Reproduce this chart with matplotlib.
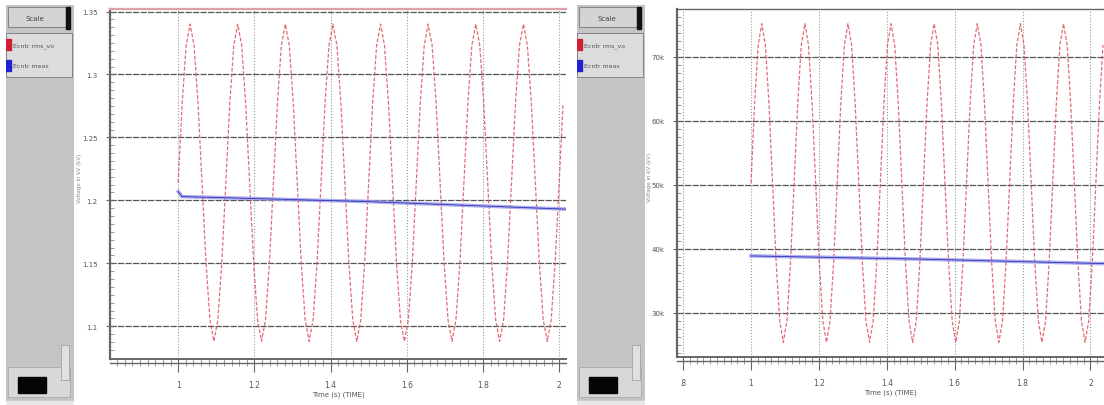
import matplotlib
matplotlib.use('Agg')
import matplotlib.pyplot as plt
import numpy as np
from matplotlib.patches import Rectangle
from matplotlib.ticker import MultipleLocator

samples_per_cycle = 12

# left window (pu)
left_period = 0.125
left_xticks = [1.0, 1.2, 1.4, 1.6, 1.8, 2.0]
left_xticklabels = ['1', '1.2', '1.4', '1.6', '1.8', '2']
left_yticks = [1.1, 1.15, 1.2, 1.25, 1.3, 1.35]
left_yticklabels = ['1.1', '1.15', '1.2', '1.25', '1.3', '1.35']
left_red_cycle = [1.214, 1.277, 1.323, 1.340, 1.323, 1.277,
                  1.214, 1.151, 1.105, 1.088, 1.105, 1.151]
left_blue_t = [1.0, 1.01, 1.5, 2.02]
left_blue_v = [1.207, 1.203, 1.199, 1.193]

# right window
right_period = 0.127
right_xticks = [0.8, 1.0, 1.2, 1.4, 1.6, 1.8, 2.0]
right_xticklabels = ['.8', '1', '1.2', '1.4', '1.6', '1.8', '2']
right_yticks = [30, 40, 50, 60, 70]
right_yticklabels = ['30k', '40k', '50k', '60k', '70k']
right_red_cycle = [50.3, 62.7, 71.9, 75.2, 71.9, 62.7,
                   50.3, 37.9, 28.7, 25.4, 28.7, 37.9]
right_blue_t = [1.0, 1.5, 2.04]
right_blue_v = [38.9, 38.4, 37.7]

legend_names = ['Ecntr rms_vo', 'Ecntr meas']

W, H = 1104, 406
fig = plt.figure(figsize=(W / 100, H / 100), dpi=100)
fig.patch.set_facecolor('white')


def px(x0, y0, w, h):
    # pixel box (top-left origin) -> figure fraction rect
    return [x0 / W, 1 - (y0 + h) / H, w / W, h / H]


def sidebar(x0):
    sb = fig.add_axes(px(x0, 6, 68, 400))
    sb.set_xlim(0, 68)
    sb.set_ylim(400, 0)
    sb.axis('off')
    sb.add_patch(Rectangle((0, 0), 68, 400, color='#c4c4c4'))
    # button
    sb.add_patch(Rectangle((2, 2), 58, 20, facecolor='#d4d4d4', edgecolor='#888888', lw=0.8))
    sb.add_patch(Rectangle((60, 2), 4, 22, color='#111111'))
    sb.text(20, 13, 'Scale', fontsize=5, color='#444444', va='center', ha='left')
    # list box
    sb.add_patch(Rectangle((0, 28), 66, 44, facecolor='#dcdcdc', edgecolor='#777777', lw=0.6))
    sb.add_patch(Rectangle((0, 34), 5, 11, color='#d02030'))
    sb.add_patch(Rectangle((0, 55), 5, 11, color='#2020d0'))
    sb.text(7, 40, legend_names[0], fontsize=4.5, color='#555555', va='center')
    sb.text(7, 61, legend_names[1], fontsize=4.5, color='#555555', va='center')
    # bottom scroll box
    sb.add_patch(Rectangle((2, 362), 62, 30, facecolor='#d8d8d8', edgecolor='#aaaaaa', lw=0.6))
    sb.add_patch(Rectangle((12, 372), 28, 16, color='#050505'))
    sb.add_patch(Rectangle((55, 340), 8, 35, facecolor='#e0e0e0', edgecolor='#999999', lw=0.5))
    sb.add_patch(Rectangle((0, 396), 68, 4, color='#e8e8e8'))


def scope(rect, xlim, ylim, xticks, xlabels, yticks, ylabels, period, red_cycle,
          blue_t, blue_v, ylab_x):
    ax = fig.add_axes(rect)
    n = int((xlim[1] - 1.0) / period * samples_per_cycle) + 1
    t = 1.0 + np.arange(n) * (period / samples_per_cycle)
    red = np.resize(red_cycle, n)
    ax.plot(t, red, color='#e0505e', lw=0.9, ls=(0, (3, 1.5)), alpha=0.85)
    ax.plot(blue_t, blue_v, color='#9a9af0', lw=2.6, alpha=0.8)
    ax.plot(blue_t, blue_v, color='#3030b0', lw=0.6)
    ax.set_xlim(xlim)
    ax.set_ylim(ylim)
    ax.set_xticks(xticks)
    ax.set_xticklabels(xlabels)
    ax.set_yticks(yticks)
    ax.set_yticklabels(ylabels)
    ax.xaxis.set_minor_locator(MultipleLocator(0.02))
    ax.yaxis.set_minor_locator(MultipleLocator((yticks[1] - yticks[0]) / 8))
    ax.tick_params(axis='x', which='major', direction='out', length=9, width=0.8,
                   color='#666666', labelsize=5.5, labelcolor='#555555', pad=6)
    ax.tick_params(axis='x', which='minor', direction='out', length=5, width=0.6, color='#888888')
    ax.tick_params(axis='y', which='major', direction='inout', length=6, width=0.8,
                   color='#666666', labelsize=5, labelcolor='#555555', pad=6)
    ax.tick_params(axis='y', which='minor', direction='in', length=3, width=0.6, color='#888888')
    ax.grid(axis='y', which='major', color='#555555', ls=(0, (5, 1)), lw=0.9)
    ax.grid(axis='x', which='major', color='#999999', ls=':', lw=0.8)
    for s in ax.spines.values():
        s.set_color('#666666')
        s.set_linewidth(1.0)
    ax.spines['right'].set_visible(False)
    ax.spines['left'].set_linewidth(1.6)
    ax.spines['bottom'].set_linewidth(1.4)
    ax.plot([0, 1], [-0.012, -0.012], transform=ax.transAxes, color='#666666', lw=1.0, clip_on=False)
    ax.set_xlabel('Time (s) (TIME)', fontsize=5, color='#555555', labelpad=1)
    fig.text(ylab_x, rect[1] + rect[3] * 0.52, 'Voltage in kV (kV)', rotation=90,
             fontsize=4, color='#888888', ha='center', va='center')
    return ax


sidebar(6)
sidebar(577)

axl = scope(px(110, 10, 456, 350), (0.821, 2.018), (1.074, 1.352),
            left_xticks, left_xticklabels, left_yticks, left_yticklabels,
            left_period, left_red_cycle, left_blue_t, left_blue_v, 80 / W)
axl.spines['top'].set_color('#e0a0a8')
axl.spines['top'].set_linewidth(1.6)

axr = scope(px(677, 10, 427, 348), (0.782, 2.04), (23.1, 77.5),
            right_xticks, right_xticklabels, right_yticks, right_yticklabels,
            right_period, right_red_cycle, right_blue_t, right_blue_v, 649 / W)

fig.savefig('out.png', dpi=100)
